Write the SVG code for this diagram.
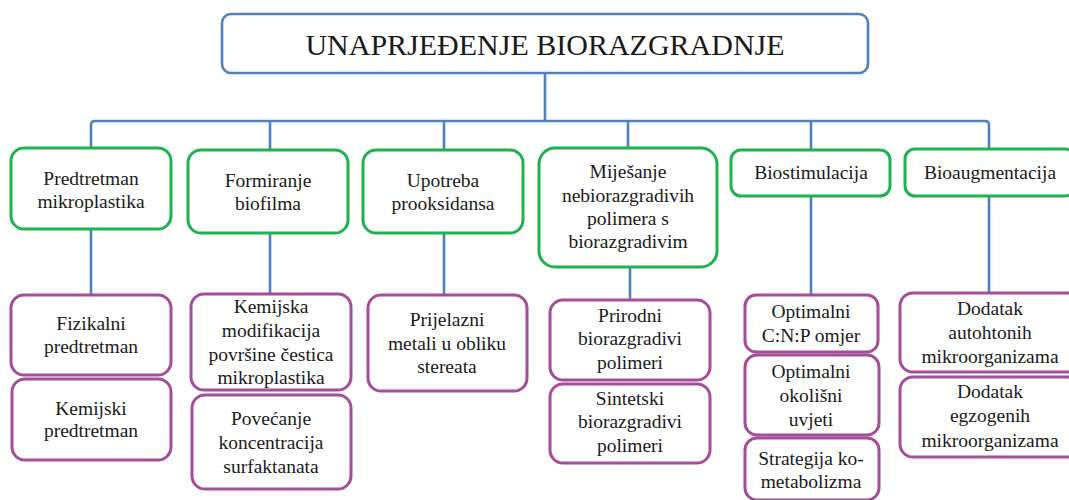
<svg xmlns="http://www.w3.org/2000/svg" width="1069" height="500" viewBox="0 0 1069 500">
<style>
.c{fill:none;stroke:#4f81bd;stroke-width:2.6}
.t{fill:#fff;stroke:#4f81bd;stroke-width:2.6}
.g{fill:#fff;stroke:#1db34f;stroke-width:3}
.m{fill:#fff;stroke:#a44d98;stroke-width:3}
text{font-family:"Liberation Serif","Times New Roman",serif;fill:#1a1a1a;text-anchor:middle;font-size:19.5px}
.h{font-size:30px}
</style>
<rect width="1069" height="500" fill="#fff"/>
<g id="connectors">
<path class="c" d="M545 73V121M91 148V125Q91 121 95 121H985Q989 121 989 125V149M270 121V150M444 121V150M628 121V148M811 121V150"/>
<path class="c" d="M91 229V295M270 233V294M444 233V295M630 267V300M811 196V295M989 196V293"/>
</g>
<g id="root"><rect class="t" x="222" y="14" width="646" height="59" rx="9"/><text class="h" x="545" y="55">UNAPRJEĐENJE BIORAZGRADNJE</text></g>
<g id="n1"><rect class="g" x="11" y="148" width="160" height="81" rx="13"/><text x="91" y="185">Predtretman</text><text x="91" y="208">mikroplastika</text></g>
<g id="n2"><rect class="g" x="188" y="150" width="160" height="83" rx="13"/><text x="268" y="187">Formiranje</text><text x="268" y="210">biofilma</text></g>
<g id="n3"><rect class="g" x="363" y="150" width="160" height="83" rx="13"/><text x="443" y="187">Upotreba</text><text x="443" y="210">prooksidansa</text></g>
<g id="n4"><rect class="g" x="539" y="148" width="178" height="119" rx="16"/><text x="628" y="178">Miješanje</text><text x="628" y="202">nebiorazgradivih</text><text x="628" y="225">polimera s</text><text x="628" y="248">biorazgradivim</text></g>
<g id="n5"><rect class="g" x="731" y="150" width="159" height="46" rx="10"/><text x="811" y="179">Biostimulacija</text></g>
<g id="n6"><rect class="g" x="905" y="149" width="170" height="47" rx="10"/><text x="990" y="179">Bioaugmentacija</text></g>
<g id="n1a"><rect class="m" x="11" y="295" width="160" height="80" rx="13"/><text x="91" y="330">Fizikalni</text><text x="91" y="353">predtretman</text></g>
<g id="n1b"><rect class="m" x="12" y="379" width="159" height="81" rx="13"/><text x="91" y="415">Kemijski</text><text x="91" y="437">predtretman</text></g>
<g id="n2a"><rect class="m" x="191" y="294" width="160" height="96" rx="13"/><text x="271" y="313">Kemijska</text><text x="271" y="337">modifikacija</text><text x="271" y="361">površine čestica</text><text x="271" y="384">mikroplastika</text></g>
<g id="n2b"><rect class="m" x="192" y="395" width="159" height="94" rx="13"/><text x="271" y="425">Povećanje</text><text x="271" y="449">koncentracija</text><text x="271" y="473">surfaktanata</text></g>
<g id="n3a"><rect class="m" x="368" y="295" width="159" height="96" rx="13"/><text x="447" y="326">Prijelazni</text><text x="447" y="350">metali u obliku</text><text x="447" y="373">stereata</text></g>
<g id="n4a"><rect class="m" x="550" y="300" width="160" height="80" rx="13"/><text x="630" y="322">Prirodni</text><text x="630" y="345">biorazgradivi</text><text x="630" y="369">polimeri</text></g>
<g id="n4b"><rect class="m" x="550" y="384" width="160" height="79" rx="13"/><text x="630" y="405">Sintetski</text><text x="630" y="428">biorazgradivi</text><text x="630" y="452">polimeri</text></g>
<g id="n5a"><rect class="m" x="745" y="295" width="133" height="57" rx="11"/><text x="811" y="318">Optimalni</text><text x="811" y="342">C:N:P omjer</text></g>
<g id="n5b"><rect class="m" x="745" y="355" width="134" height="80" rx="12"/><text x="811" y="378">Optimalni</text><text x="811" y="402">okolišni</text><text x="811" y="426">uvjeti</text></g>
<g id="n5c"><rect class="m" x="745" y="438" width="134" height="62" rx="12"/><text x="811" y="465">Strategija ko-</text><text x="811" y="488">metabolizma</text></g>
<g id="n6a"><rect class="m" x="900" y="293" width="180" height="79" rx="13"/><text x="990" y="315">Dodatak</text><text x="990" y="339">autohtonih</text><text x="990" y="363">mikroorganizama</text></g>
<g id="n6b"><rect class="m" x="900" y="377" width="180" height="80" rx="13"/><text x="990" y="398">Dodatak</text><text x="990" y="422">egzogenih</text><text x="990" y="447">mikroorganizama</text></g>
</svg>
